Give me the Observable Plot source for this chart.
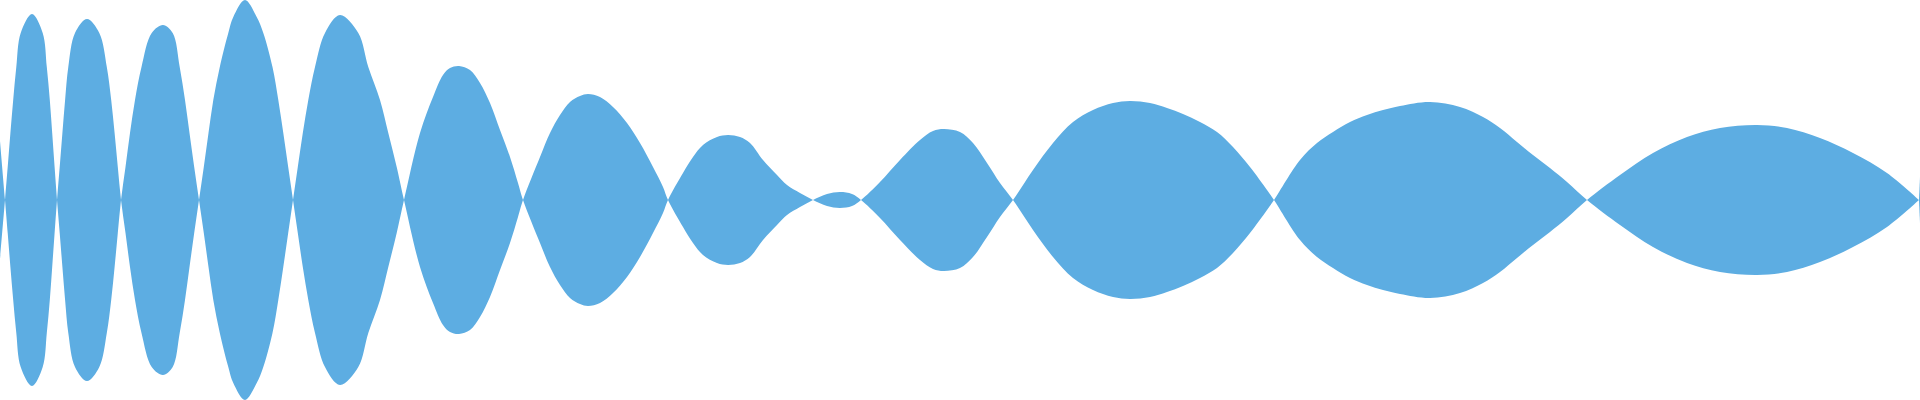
<!DOCTYPE html>
<html>
<head>
<meta charset="utf-8">
<script src="https://cdn.jsdelivr.net/npm/d3@7"></script>
<script src="https://cdn.jsdelivr.net/npm/@observablehq/plot@0.6"></script>
<style>
  html, body { margin: 0; padding: 0; background: #fff; }
  #chart svg { display: block; }
</style>
</head>
<body>
<div id="chart"></div>
<script>
// Samples of the signal (time, signed amplitude)
const t = [
  0, 5,
  7.7, 10.4, 13.2, 16.3, 20.7, 32, 42.7, 46.8, 49.8, 52.2, 54.6, 57,
  59.7, 62.4, 65.1, 68.3, 75, 87, 99.3, 106.8, 111.2, 114.6, 117.8, 121,
  125.5, 130, 135, 141.5, 151.7, 163, 172.7, 179.7, 185, 189.5, 194.2, 199,
  203.8, 208.5, 213.3, 219.8, 228.3, 233.3, 245, 256.7, 263.3, 272.5, 278.3, 283.3, 288.2, 293,
  297.8, 302.8, 308.3, 315, 325, 340, 358.3, 368.3, 380, 388.3, 396.7, 404,
  420, 433, 443, 450, 459, 470, 480, 490, 500, 510, 518, 523,
  540, 550, 560, 570, 580, 588, 600, 613, 627, 640, 653, 663, 668,
  683, 693, 703, 717, 728, 740, 750, 763, 777, 787, 800, 813,
  827, 840, 852, 861,
  880, 900, 920, 933, 944, 960, 973, 987, 1000, 1013,
  1033, 1053, 1073, 1093, 1113, 1130, 1150, 1167, 1183, 1200, 1217, 1233, 1250, 1267, 1274,
  1300, 1317, 1333, 1350, 1367, 1383, 1400, 1430, 1460, 1483, 1500, 1517, 1533, 1550, 1567, 1587,
  1620, 1653, 1687, 1720, 1757, 1787, 1820, 1853, 1887, 1919
];
const v = [
  -59, 0,
  33, 67, 100, 133, 167, 186, 167, 133, 100, 67, 33, 0,
  -33, -67, -100, -133, -167, -181, -167, -133, -100, -67, -33, 0,
  33, 67, 100, 133, 167, 175, 167, 133, 100, 67, 33, 0,
  -33, -67, -100, -133, -167, -183, -200, -183, -167, -133, -100, -67, -33, 0,
  33, 67, 100, 133, 167, 185, 167, 133, 100, 67, 33, 0,
  -67, -103, -125, -132, -134, -130, -117, -97, -70, -43, -17, 0,
  43, 67, 85, 98, 104, 106, 103, 93, 77, 57, 33, 13, 0,
  -27, -43, -55, -63, -65, -63, -57, -40, -25, -15, -7, 0,
  6, 8, 6, 0,
  -18, -40, -60, -69, -71, -68, -57, -37, -17, 0,
  30, 57, 78, 90, 97, 99, 97, 92, 86, 78, 68, 53, 33, 10, 0,
  -40, -57, -68, -78, -85, -90, -94, -98, -93, -83, -72, -58, -45, -32, -18, 0,
  25, 47, 63, 72, 75, 72, 62, 47, 27, 0
];
// the last sliver at the right edge
const tailT = [1919, 1920];
const tailV = [0, -23];

const xDomain = [0, 1920];
const yDomain = [-200, 200];
const fillColor = "#5dade2";

const body = t.map((ti, i) => ({t: ti, v: v[i]}));
const tail = tailT.map((ti, i) => ({t: ti, v: tailV[i]}));

const chart = Plot.plot({
  width: 1920,
  height: 400,
  margin: 0,
  x: {domain: xDomain, axis: null},
  y: {domain: yDomain, axis: null},
  marks: [
    Plot.areaY(body, {x: "t", y1: d => -d.v, y2: "v", curve: "catmull-rom", fill: fillColor}),
    Plot.areaY(tail, {x: "t", y1: d => -d.v, y2: "v", curve: "linear", fill: fillColor})
  ]
});
document.getElementById("chart").append(chart);
</script>
</body>
</html>
